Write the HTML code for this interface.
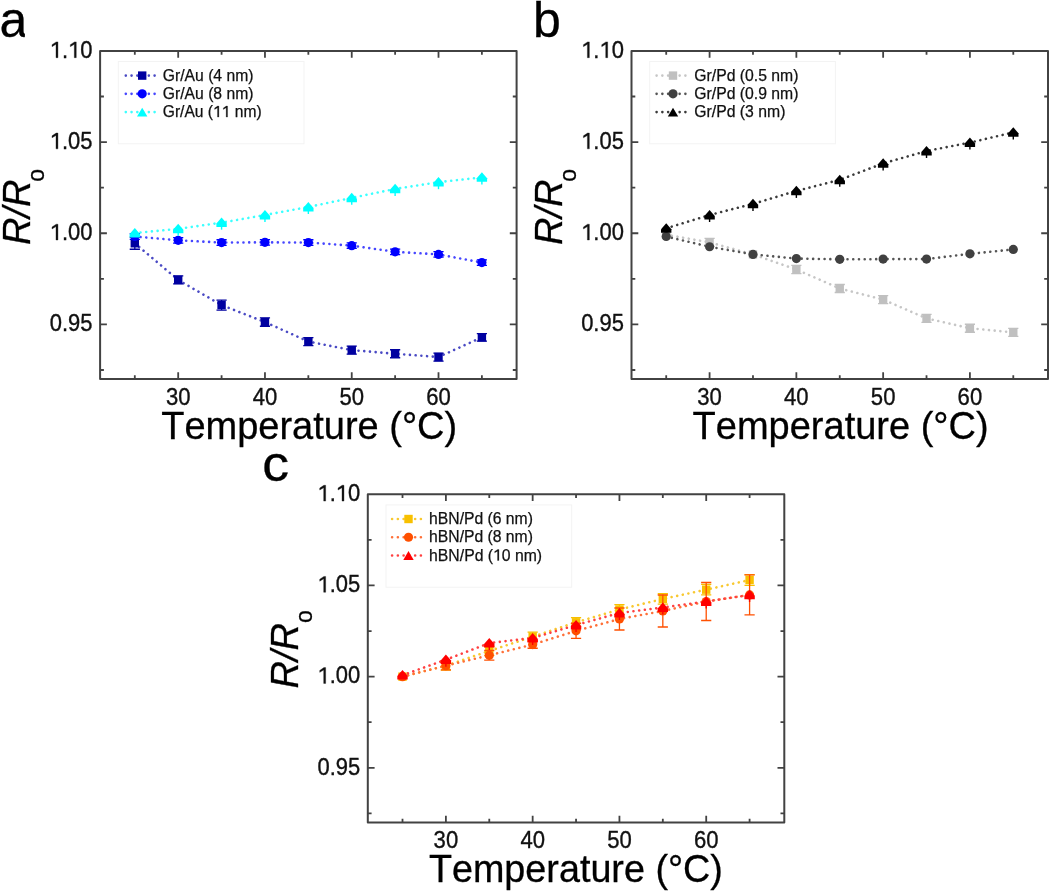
<!DOCTYPE html>
<html><head><meta charset="utf-8"><title>R/Ro vs Temperature</title>
<style>
html,body{margin:0;padding:0;background:#fff;}
body{width:1050px;height:891px;overflow:hidden;}
svg{display:block;will-change:transform;}
text{font-family:"Liberation Sans",sans-serif;fill:#000;font-kerning:none;}
.tl{font-size:23px;fill:#111;stroke:#111;stroke-width:0.35px;}
.at{font-size:38px;stroke:#000;stroke-width:0.3px;}
.sub{font-size:23px;font-style:normal;}
.pl{font-size:50px;stroke:#000;stroke-width:0.3px;}
.lg{font-size:16px;fill:#111;stroke:#111;stroke-width:0.25px;}
</style></head>
<body>
<svg width="1050" height="891" viewBox="0 0 1050 891">
<rect width="1050" height="891" fill="#fff"/>
<g>
<rect x="100.1" y="50.9" width="416.5" height="328.2" fill="none" stroke="#424242" stroke-width="2.0" stroke-linejoin="round"/>
<path d="M134.81 379.1v-3.8M134.81 50.9v3.8M178.19 379.1v-6.8M178.19 50.9v6.8M221.58 379.1v-3.8M221.58 50.9v3.8M264.96 379.1v-6.8M264.96 50.9v6.8M308.35 379.1v-3.8M308.35 50.9v3.8M351.74 379.1v-6.8M351.74 50.9v6.8M395.12 379.1v-3.8M395.12 50.9v3.8M438.51 379.1v-6.8M438.51 50.9v6.8M481.89 379.1v-3.8M481.89 50.9v3.8M100.1 369.98h3.8M516.6 369.98h-3.8M100.1 324.4h6.8M516.6 324.4h-6.8M100.1 278.82h3.8M516.6 278.82h-3.8M100.1 233.23h6.8M516.6 233.23h-6.8M100.1 187.65h3.8M516.6 187.65h-3.8M100.1 142.07h6.8M516.6 142.07h-6.8M100.1 96.48h3.8M516.6 96.48h-3.8" stroke="#424242" stroke-width="1.8" fill="none"/>
<g transform="translate(7.13 0) scale(0.96 1)"><text x="165.4" y="405" class="tl">30</text></g>
<g transform="translate(10.6 0) scale(0.96 1)"><text x="252.17" y="405" class="tl">40</text></g>
<g transform="translate(14.07 0) scale(0.96 1)"><text x="338.94" y="405" class="tl">50</text></g>
<g transform="translate(17.54 0) scale(0.96 1)"><text x="425.71" y="405" class="tl">60</text></g>
<g transform="translate(4.16 0) scale(0.955 1)"><text x="47.74" y="331.2" class="tl">0.95</text></g>
<g transform="translate(4.16 0) scale(0.955 1)"><text x="47.74" y="240.03" class="tl"> .00</text><path class="tl" d="M54.28 240.03L54.28 226.6L50.12 228.97L50.12 227.01L54.47 224.21L56.32 224.21L56.32 240.03Z"/></g>
<g transform="translate(4.16 0) scale(0.955 1)"><text x="47.74" y="148.87" class="tl"> .05</text><path class="tl" d="M54.28 148.87L54.28 135.44L50.12 137.8L50.12 135.84L54.47 133.04L56.32 133.04L56.32 148.87Z"/></g>
<g transform="translate(4.16 0) scale(0.955 1)"><text x="47.74" y="57.7" class="tl"> . 0</text><path class="tl" d="M54.28 57.7L54.28 44.27L50.12 46.64L50.12 44.67L54.47 41.88L56.32 41.88L56.32 57.7Z"/><path class="tl" d="M73.46 57.7L73.46 44.27L69.3 46.64L69.3 44.67L73.66 41.88L75.5 41.88L75.5 57.7Z"/></g>
<text x="161.2" y="439" class="at" textLength="296" lengthAdjust="spacingAndGlyphs">Temperature (°C)</text>
<text transform="translate(29.8 245.1) rotate(-90)" class="at"><tspan font-style="italic">R/R</tspan><tspan class="sub" dx="-2.2" dy="14.2">o</tspan></text>
<text x="-0.4" y="37.2" class="pl">a</text>
<rect x="24.9" y="28" width="5" height="12" fill="#fff"/>
<rect x="118.3" y="61.5" width="185.7" height="82.3" fill="none" stroke="#f3f3f3" stroke-width="1"/>
<path d="M125.8 75.6H159.5" stroke="#4a4ac4" stroke-width="2.6" stroke-linecap="round" stroke-dasharray="0.01 5.75" fill="none"/>
<rect x="138" y="71.4" width="8.4" height="8.4" fill="#0000a0"/>
<text x="162.8" y="80.6" class="lg" textLength="90.7" lengthAdjust="spacingAndGlyphs">Gr/Au (4 nm)</text>
<path d="M125.8 93.85H159.5" stroke="#4646ff" stroke-width="2.6" stroke-linecap="round" stroke-dasharray="0.01 5.75" fill="none"/>
<circle cx="142.2" cy="93.85" r="4.6" fill="#0000ff"/>
<text x="162.8" y="98.85" class="lg" textLength="90.7" lengthAdjust="spacingAndGlyphs">Gr/Au (8 nm)</text>
<path d="M125.8 112.1H159.5" stroke="#3cffff" stroke-width="2.6" stroke-linecap="round" stroke-dasharray="0.01 5.75" fill="none"/>
<path d="M142.2 107.7L147.4 116.5L137 116.5Z" fill="#00ffff"/>
<text x="162.8" y="117.1" class="lg" textLength="98.8" lengthAdjust="spacingAndGlyphs">Gr/Au (   nm)</text><path class="lg" d="M217.5 117.1L217.5 107.76L214.67 109.4L214.67 108.04L217.63 106.09L218.88 106.09L218.88 117.1Z"/><path class="lg" d="M226.17 117.1L226.17 107.76L223.35 109.4L223.35 108.04L226.3 106.09L227.55 106.09L227.55 117.1Z"/>
<polyline points="134.81,243.26 178.19,279.91 221.58,305.07 264.96,322.03 308.35,341.54 351.74,350.11 395.12,353.76 438.51,357.04 481.89,337.35" stroke="#4a4ac4" stroke-width="2.6" stroke-linecap="round" stroke-dasharray="0.01 5.72" fill="none"/>
<polyline points="134.81,236.52 178.19,240.34 221.58,242.53 264.96,242.35 308.35,242.53 351.74,245.63 395.12,251.83 438.51,254.38 481.89,262.59" stroke="#4646ff" stroke-width="2.6" stroke-linecap="round" stroke-dasharray="0.01 5.72" fill="none"/>
<polyline points="134.81,233.05 178.19,228.86 221.58,222.66 264.96,215 308.35,206.98 351.74,197.86 395.12,188.93 438.51,182.18 481.89,177.44" stroke="#3cffff" stroke-width="2.6" stroke-linecap="round" stroke-dasharray="0.01 5.72" fill="none"/>
<path d="M134.81 237.26V249.26M129.71 237.26H139.91M129.71 249.26H139.91" stroke="#0000a0" stroke-width="1.3" fill="none"/>
<rect x="130.61" y="239.06" width="8.4" height="8.4" fill="#0000a0"/>
<path d="M178.19 275.91V283.91M173.09 275.91H183.29M173.09 283.91H183.29" stroke="#0000a0" stroke-width="1.3" fill="none"/>
<rect x="173.99" y="275.71" width="8.4" height="8.4" fill="#0000a0"/>
<path d="M221.58 300.07V310.07M216.48 300.07H226.68M216.48 310.07H226.68" stroke="#0000a0" stroke-width="1.3" fill="none"/>
<rect x="217.38" y="300.87" width="8.4" height="8.4" fill="#0000a0"/>
<path d="M264.96 317.83V326.23M259.86 317.83H270.06M259.86 326.23H270.06" stroke="#0000a0" stroke-width="1.3" fill="none"/>
<rect x="260.76" y="317.83" width="8.4" height="8.4" fill="#0000a0"/>
<path d="M308.35 337.54V345.54M303.25 337.54H313.45M303.25 345.54H313.45" stroke="#0000a0" stroke-width="1.3" fill="none"/>
<rect x="304.15" y="337.34" width="8.4" height="8.4" fill="#0000a0"/>
<path d="M351.74 346.11V354.11M346.64 346.11H356.84M346.64 354.11H356.84" stroke="#0000a0" stroke-width="1.3" fill="none"/>
<rect x="347.54" y="345.91" width="8.4" height="8.4" fill="#0000a0"/>
<path d="M395.12 349.76V357.76M390.02 349.76H400.22M390.02 357.76H400.22" stroke="#0000a0" stroke-width="1.3" fill="none"/>
<rect x="390.92" y="349.56" width="8.4" height="8.4" fill="#0000a0"/>
<path d="M438.51 353.04V361.04M433.41 353.04H443.61M433.41 361.04H443.61" stroke="#0000a0" stroke-width="1.3" fill="none"/>
<rect x="434.31" y="352.84" width="8.4" height="8.4" fill="#0000a0"/>
<path d="M481.89 333.55V341.15M476.79 333.55H486.99M476.79 341.15H486.99" stroke="#0000a0" stroke-width="1.3" fill="none"/>
<rect x="477.69" y="333.15" width="8.4" height="8.4" fill="#0000a0"/>
<path d="M134.81 233.72V239.32M129.71 233.72H139.91M129.71 239.32H139.91" stroke="#0000ff" stroke-width="1.3" fill="none"/>
<circle cx="134.81" cy="236.52" r="4.6" fill="#0000ff"/>
<path d="M178.19 237.54V243.14M173.09 237.54H183.29M173.09 243.14H183.29" stroke="#0000ff" stroke-width="1.3" fill="none"/>
<circle cx="178.19" cy="240.34" r="4.6" fill="#0000ff"/>
<path d="M221.58 239.73V245.33M216.48 239.73H226.68M216.48 245.33H226.68" stroke="#0000ff" stroke-width="1.3" fill="none"/>
<circle cx="221.58" cy="242.53" r="4.6" fill="#0000ff"/>
<path d="M264.96 239.55V245.15M259.86 239.55H270.06M259.86 245.15H270.06" stroke="#0000ff" stroke-width="1.3" fill="none"/>
<circle cx="264.96" cy="242.35" r="4.6" fill="#0000ff"/>
<path d="M308.35 239.73V245.33M303.25 239.73H313.45M303.25 245.33H313.45" stroke="#0000ff" stroke-width="1.3" fill="none"/>
<circle cx="308.35" cy="242.53" r="4.6" fill="#0000ff"/>
<path d="M351.74 242.83V248.43M346.64 242.83H356.84M346.64 248.43H356.84" stroke="#0000ff" stroke-width="1.3" fill="none"/>
<circle cx="351.74" cy="245.63" r="4.6" fill="#0000ff"/>
<path d="M395.12 249.03V254.63M390.02 249.03H400.22M390.02 254.63H400.22" stroke="#0000ff" stroke-width="1.3" fill="none"/>
<circle cx="395.12" cy="251.83" r="4.6" fill="#0000ff"/>
<path d="M438.51 251.58V257.18M433.41 251.58H443.61M433.41 257.18H443.61" stroke="#0000ff" stroke-width="1.3" fill="none"/>
<circle cx="438.51" cy="254.38" r="4.6" fill="#0000ff"/>
<path d="M481.89 259.79V265.39M476.79 259.79H486.99M476.79 265.39H486.99" stroke="#0000ff" stroke-width="1.3" fill="none"/>
<circle cx="481.89" cy="262.59" r="4.6" fill="#0000ff"/>
<path d="M134.81 227.95L140.01 233.95V237.45H129.61V233.95Z" fill="#00ffff"/>
<path d="M178.19 228.86V235.86" stroke="#00ffff" stroke-width="1.4" fill="none"/>
<path d="M178.19 223.76L183.39 229.76V233.26H172.99V229.76Z" fill="#00ffff"/>
<path d="M221.58 222.66V229.66" stroke="#00ffff" stroke-width="1.4" fill="none"/>
<path d="M221.58 217.56L226.78 223.56V227.06H216.38V223.56Z" fill="#00ffff"/>
<path d="M264.96 215V222" stroke="#00ffff" stroke-width="1.4" fill="none"/>
<path d="M264.96 209.9L270.16 215.9V219.4H259.76V215.9Z" fill="#00ffff"/>
<path d="M308.35 206.98V213.98" stroke="#00ffff" stroke-width="1.4" fill="none"/>
<path d="M308.35 201.88L313.55 207.88V211.38H303.15V207.88Z" fill="#00ffff"/>
<path d="M351.74 197.86V204.86" stroke="#00ffff" stroke-width="1.4" fill="none"/>
<path d="M351.74 192.76L356.94 198.76V202.26H346.54V198.76Z" fill="#00ffff"/>
<path d="M395.12 188.93V195.93" stroke="#00ffff" stroke-width="1.4" fill="none"/>
<path d="M395.12 183.83L400.32 189.83V193.33H389.92V189.83Z" fill="#00ffff"/>
<path d="M438.51 182.18V189.18" stroke="#00ffff" stroke-width="1.4" fill="none"/>
<path d="M438.51 177.08L443.71 183.08V186.58H433.31V183.08Z" fill="#00ffff"/>
<path d="M481.89 177.44V184.44" stroke="#00ffff" stroke-width="1.4" fill="none"/>
<path d="M481.89 172.34L487.09 178.34V181.84H476.69V178.34Z" fill="#00ffff"/>
<rect x="631.5" y="50.9" width="416.5" height="328.2" fill="none" stroke="#424242" stroke-width="2.0" stroke-linejoin="round"/>
<path d="M666.21 379.1v-3.8M666.21 50.9v3.8M709.59 379.1v-6.8M709.59 50.9v6.8M752.98 379.1v-3.8M752.98 50.9v3.8M796.36 379.1v-6.8M796.36 50.9v6.8M839.75 379.1v-3.8M839.75 50.9v3.8M883.14 379.1v-6.8M883.14 50.9v6.8M926.52 379.1v-3.8M926.52 50.9v3.8M969.91 379.1v-6.8M969.91 50.9v6.8M1013.29 379.1v-3.8M1013.29 50.9v3.8M631.5 369.98h3.8M1048 369.98h-3.8M631.5 324.4h6.8M1048 324.4h-6.8M631.5 278.82h3.8M1048 278.82h-3.8M631.5 233.23h6.8M1048 233.23h-6.8M631.5 187.65h3.8M1048 187.65h-3.8M631.5 142.07h6.8M1048 142.07h-6.8M631.5 96.48h3.8M1048 96.48h-3.8" stroke="#424242" stroke-width="1.8" fill="none"/>
<g transform="translate(28.38 0) scale(0.96 1)"><text x="696.8" y="405" class="tl">30</text></g>
<g transform="translate(31.85 0) scale(0.96 1)"><text x="783.57" y="405" class="tl">40</text></g>
<g transform="translate(35.33 0) scale(0.96 1)"><text x="870.34" y="405" class="tl">50</text></g>
<g transform="translate(38.8 0) scale(0.96 1)"><text x="957.11" y="405" class="tl">60</text></g>
<g transform="translate(28.08 0) scale(0.955 1)"><text x="579.14" y="331.2" class="tl">0.95</text></g>
<g transform="translate(28.08 0) scale(0.955 1)"><text x="579.14" y="240.03" class="tl"> .00</text><path class="tl" d="M585.68 240.03L585.68 226.6L581.52 228.97L581.52 227.01L585.87 224.21L587.72 224.21L587.72 240.03Z"/></g>
<g transform="translate(28.08 0) scale(0.955 1)"><text x="579.14" y="148.87" class="tl"> .05</text><path class="tl" d="M585.68 148.87L585.68 135.44L581.52 137.8L581.52 135.84L585.87 133.04L587.72 133.04L587.72 148.87Z"/></g>
<g transform="translate(28.08 0) scale(0.955 1)"><text x="579.14" y="57.7" class="tl"> . 0</text><path class="tl" d="M585.68 57.7L585.68 44.27L581.52 46.64L581.52 44.67L585.87 41.88L587.72 41.88L587.72 57.7Z"/><path class="tl" d="M604.86 57.7L604.86 44.27L600.7 46.64L600.7 44.67L605.06 41.88L606.9 41.88L606.9 57.7Z"/></g>
<text x="692.6" y="439" class="at" textLength="296" lengthAdjust="spacingAndGlyphs">Temperature (°C)</text>
<text transform="translate(562.2 245.1) rotate(-90)" class="at"><tspan font-style="italic">R/R</tspan><tspan class="sub" dx="-2.2" dy="14.2">o</tspan></text>
<text x="533" y="37" class="pl">b</text>
<rect x="649.7" y="61.5" width="185.7" height="82.3" fill="none" stroke="#f3f3f3" stroke-width="1"/>
<path d="M656.6 75.6H690.3" stroke="#c6c6c6" stroke-width="2.6" stroke-linecap="round" stroke-dasharray="0.01 5.75" fill="none"/>
<rect x="668.8" y="71.4" width="8.4" height="8.4" fill="#c0c0c0"/>
<text x="694.3" y="80.6" class="lg" textLength="104.2" lengthAdjust="spacingAndGlyphs">Gr/Pd (0.5 nm)</text>
<path d="M656.6 93.85H690.3" stroke="#555555" stroke-width="2.6" stroke-linecap="round" stroke-dasharray="0.01 5.75" fill="none"/>
<circle cx="673" cy="93.85" r="4.6" fill="#404040"/>
<text x="694.3" y="98.85" class="lg" textLength="104.2" lengthAdjust="spacingAndGlyphs">Gr/Pd (0.9 nm)</text>
<path d="M656.6 112.1H690.3" stroke="#3a3a3a" stroke-width="2.6" stroke-linecap="round" stroke-dasharray="0.01 5.75" fill="none"/>
<path d="M673 107.7L678.2 116.5L667.8 116.5Z" fill="#000000"/>
<text x="694.3" y="117.1" class="lg" textLength="91.1" lengthAdjust="spacingAndGlyphs">Gr/Pd (3 nm)</text>
<polyline points="666.21,234.69 709.59,242.35 752.98,254.38 796.36,269.52 839.75,288.48 883.14,299.6 926.52,318.38 969.91,328.23 1013.29,332.42" stroke="#c6c6c6" stroke-width="2.6" stroke-linecap="round" stroke-dasharray="0.01 5.72" fill="none"/>
<polyline points="666.21,236.52 709.59,246.73 752.98,254.38 796.36,258.58 839.75,259.31 883.14,259.12 926.52,259.12 969.91,253.84 1013.29,249.46" stroke="#555555" stroke-width="2.6" stroke-linecap="round" stroke-dasharray="0.01 5.72" fill="none"/>
<polyline points="666.21,228.31 709.59,215 752.98,203.88 796.36,190.93 839.75,179.81 883.14,163.4 926.52,151 969.91,142.61 1013.29,132.4" stroke="#3a3a3a" stroke-width="2.6" stroke-linecap="round" stroke-dasharray="0.01 5.72" fill="none"/>

<rect x="662.01" y="230.49" width="8.4" height="8.4" fill="#c0c0c0"/>
<path d="M709.59 238.35V246.35M704.49 238.35H714.69M704.49 246.35H714.69" stroke="#c0c0c0" stroke-width="1.3" fill="none"/>
<rect x="705.39" y="238.15" width="8.4" height="8.4" fill="#c0c0c0"/>

<rect x="748.78" y="250.18" width="8.4" height="8.4" fill="#c0c0c0"/>
<path d="M796.36 265.32V273.72M791.26 265.32H801.46M791.26 273.72H801.46" stroke="#c0c0c0" stroke-width="1.3" fill="none"/>
<rect x="792.16" y="265.32" width="8.4" height="8.4" fill="#c0c0c0"/>
<path d="M839.75 284.48V292.48M834.65 284.48H844.85M834.65 292.48H844.85" stroke="#c0c0c0" stroke-width="1.3" fill="none"/>
<rect x="835.55" y="284.28" width="8.4" height="8.4" fill="#c0c0c0"/>
<path d="M883.14 295.6V303.6M878.04 295.6H888.24M878.04 303.6H888.24" stroke="#c0c0c0" stroke-width="1.3" fill="none"/>
<rect x="878.94" y="295.4" width="8.4" height="8.4" fill="#c0c0c0"/>
<path d="M926.52 314.38V322.38M921.42 314.38H931.62M921.42 322.38H931.62" stroke="#c0c0c0" stroke-width="1.3" fill="none"/>
<rect x="922.32" y="314.18" width="8.4" height="8.4" fill="#c0c0c0"/>
<path d="M969.91 324.23V332.23M964.81 324.23H975.01M964.81 332.23H975.01" stroke="#c0c0c0" stroke-width="1.3" fill="none"/>
<rect x="965.71" y="324.03" width="8.4" height="8.4" fill="#c0c0c0"/>
<path d="M1013.29 328.42V336.42M1008.19 328.42H1018.39M1008.19 336.42H1018.39" stroke="#c0c0c0" stroke-width="1.3" fill="none"/>
<rect x="1009.09" y="328.22" width="8.4" height="8.4" fill="#c0c0c0"/>

<circle cx="666.21" cy="236.52" r="4.6" fill="#404040"/>

<circle cx="709.59" cy="246.73" r="4.6" fill="#404040"/>

<circle cx="752.98" cy="254.38" r="4.6" fill="#404040"/>

<circle cx="796.36" cy="258.58" r="4.6" fill="#404040"/>

<circle cx="839.75" cy="259.31" r="4.6" fill="#404040"/>

<circle cx="883.14" cy="259.12" r="4.6" fill="#404040"/>

<circle cx="926.52" cy="259.12" r="4.6" fill="#404040"/>

<circle cx="969.91" cy="253.84" r="4.6" fill="#404040"/>

<circle cx="1013.29" cy="249.46" r="4.6" fill="#404040"/>
<path d="M666.21 223.21L671.41 229.21V232.71H661.01V229.21Z" fill="#000000"/>
<path d="M709.59 215V222" stroke="#000000" stroke-width="1.4" fill="none"/>
<path d="M709.59 209.9L714.79 215.9V219.4H704.39V215.9Z" fill="#000000"/>
<path d="M752.98 203.88V210.88" stroke="#000000" stroke-width="1.4" fill="none"/>
<path d="M752.98 198.78L758.18 204.78V208.28H747.78V204.78Z" fill="#000000"/>
<path d="M796.36 190.93V197.93" stroke="#000000" stroke-width="1.4" fill="none"/>
<path d="M796.36 185.83L801.56 191.83V195.33H791.16V191.83Z" fill="#000000"/>
<path d="M839.75 179.81V186.81" stroke="#000000" stroke-width="1.4" fill="none"/>
<path d="M839.75 174.71L844.95 180.71V184.21H834.55V180.71Z" fill="#000000"/>
<path d="M883.14 163.4V170.4" stroke="#000000" stroke-width="1.4" fill="none"/>
<path d="M883.14 158.3L888.34 164.3V167.8H877.94V164.3Z" fill="#000000"/>
<path d="M926.52 151V158" stroke="#000000" stroke-width="1.4" fill="none"/>
<path d="M926.52 145.9L931.72 151.9V155.4H921.32V151.9Z" fill="#000000"/>
<path d="M969.91 142.61V149.61" stroke="#000000" stroke-width="1.4" fill="none"/>
<path d="M969.91 137.51L975.11 143.51V147.01H964.71V143.51Z" fill="#000000"/>
<path d="M1013.29 132.4V139.4" stroke="#000000" stroke-width="1.4" fill="none"/>
<path d="M1013.29 127.3L1018.49 133.3V136.8H1008.09V133.3Z" fill="#000000"/>
<rect x="367.8" y="494.3" width="416.5" height="328.2" fill="none" stroke="#424242" stroke-width="2.0" stroke-linejoin="round"/>
<path d="M402.51 822.5v-3.8M402.51 494.3v3.8M445.89 822.5v-6.8M445.89 494.3v6.8M489.28 822.5v-3.8M489.28 494.3v3.8M532.66 822.5v-6.8M532.66 494.3v6.8M576.05 822.5v-3.8M576.05 494.3v3.8M619.44 822.5v-6.8M619.44 494.3v6.8M662.82 822.5v-3.8M662.82 494.3v3.8M706.21 822.5v-6.8M706.21 494.3v6.8M749.59 822.5v-3.8M749.59 494.3v3.8M367.8 813.38h3.8M784.3 813.38h-3.8M367.8 767.8h6.8M784.3 767.8h-6.8M367.8 722.22h3.8M784.3 722.22h-3.8M367.8 676.63h6.8M784.3 676.63h-6.8M367.8 631.05h3.8M784.3 631.05h-3.8M367.8 585.47h6.8M784.3 585.47h-6.8M367.8 539.88h3.8M784.3 539.88h-3.8" stroke="#424242" stroke-width="1.8" fill="none"/>
<g transform="translate(17.84 0) scale(0.96 1)"><text x="433.1" y="848.4" class="tl">30</text></g>
<g transform="translate(21.31 0) scale(0.96 1)"><text x="519.87" y="848.4" class="tl">40</text></g>
<g transform="translate(24.78 0) scale(0.96 1)"><text x="606.64" y="848.4" class="tl">50</text></g>
<g transform="translate(28.25 0) scale(0.96 1)"><text x="693.41" y="848.4" class="tl">60</text></g>
<g transform="translate(16.21 0) scale(0.955 1)"><text x="315.44" y="774.6" class="tl">0.95</text></g>
<g transform="translate(16.21 0) scale(0.955 1)"><text x="315.44" y="683.43" class="tl"> .00</text><path class="tl" d="M321.98 683.43L321.98 670L317.82 672.37L317.82 670.41L322.17 667.61L324.02 667.61L324.02 683.43Z"/></g>
<g transform="translate(16.21 0) scale(0.955 1)"><text x="315.44" y="592.27" class="tl"> .05</text><path class="tl" d="M321.98 592.27L321.98 578.84L317.82 581.2L317.82 579.24L322.17 576.44L324.02 576.44L324.02 592.27Z"/></g>
<g transform="translate(16.21 0) scale(0.955 1)"><text x="315.44" y="501.1" class="tl"> . 0</text><path class="tl" d="M321.98 501.1L321.98 487.67L317.82 490.04L317.82 488.07L322.17 485.28L324.02 485.28L324.02 501.1Z"/><path class="tl" d="M341.16 501.1L341.16 487.67L337 490.04L337 488.07L341.36 485.28L343.2 485.28L343.2 501.1Z"/></g>
<text x="428.9" y="882.4" class="at" textLength="294" lengthAdjust="spacingAndGlyphs">Temperature (°C)</text>
<text transform="translate(297.5 688.5) rotate(-90)" class="at"><tspan font-style="italic">R/R</tspan><tspan class="sub" dx="0" dy="14.2">o</tspan></text>
<text transform="translate(262.2 480.6) scale(1.07 1)" class="pl">c</text>
<rect x="386" y="504.9" width="185.7" height="82.3" fill="none" stroke="#f3f3f3" stroke-width="1"/>
<path d="M392.1 519H425.8" stroke="#f8c830" stroke-width="2.6" stroke-linecap="round" stroke-dasharray="0.01 5.75" fill="none"/>
<rect x="404.3" y="514.8" width="8.4" height="8.4" fill="#f8c000"/>
<text x="429.1" y="524" class="lg" textLength="103.8" lengthAdjust="spacingAndGlyphs">hBN/Pd (6 nm)</text>
<path d="M392.1 537.25H425.8" stroke="#ff7038" stroke-width="2.6" stroke-linecap="round" stroke-dasharray="0.01 5.75" fill="none"/>
<circle cx="408.5" cy="537.25" r="4.6" fill="#ff5000"/>
<text x="429.1" y="542.25" class="lg" textLength="103.8" lengthAdjust="spacingAndGlyphs">hBN/Pd (8 nm)</text>
<path d="M392.1 555.5H425.8" stroke="#ff4040" stroke-width="2.6" stroke-linecap="round" stroke-dasharray="0.01 5.75" fill="none"/>
<path d="M408.5 551.1L413.7 559.9L403.3 559.9Z" fill="#ff0000"/>
<text x="429.1" y="560.5" class="lg" textLength="113" lengthAdjust="spacingAndGlyphs">hBN/Pd ( 0 nm)</text><path class="lg" d="M497.53 560.5L497.53 551.16L494.68 552.8L494.68 551.44L497.66 549.49L498.93 549.49L498.93 560.5Z"/>
<polyline points="402.51,676.63 445.89,665.69 489.28,650.92 532.66,636.7 576.05,622.3 619.44,609.53 662.82,598.96 706.21,589.66 749.59,580" stroke="#f8c830" stroke-width="2.6" stroke-linecap="round" stroke-dasharray="0.01 5.72" fill="none"/>
<polyline points="402.51,676.63 445.89,665.69 489.28,655.3 532.66,644.54 576.05,630.87 619.44,619.02 662.82,610.99 706.21,601.51 749.59,594.95" stroke="#ff7038" stroke-width="2.6" stroke-linecap="round" stroke-dasharray="0.01 5.72" fill="none"/>
<polyline points="402.51,675.17 445.89,659.68 489.28,643.08 532.66,637.98 576.05,625.03 619.44,613 662.82,607.53 706.21,601.51 749.59,594.95" stroke="#ff4040" stroke-width="2.6" stroke-linecap="round" stroke-dasharray="0.01 5.72" fill="none"/>

<rect x="398.31" y="672.43" width="8.4" height="8.4" fill="#f8c000"/>
<path d="M445.89 661.29V670.09M440.79 661.29H450.99M440.79 670.09H450.99" stroke="#f8c000" stroke-width="1.3" fill="none"/>
<rect x="441.69" y="661.49" width="8.4" height="8.4" fill="#f8c000"/>
<path d="M489.28 646.52V655.32M484.18 646.52H494.38M484.18 655.32H494.38" stroke="#f8c000" stroke-width="1.3" fill="none"/>
<rect x="485.08" y="646.72" width="8.4" height="8.4" fill="#f8c000"/>
<path d="M532.66 632.1V641.3M527.56 632.1H537.76M527.56 641.3H537.76" stroke="#f8c000" stroke-width="1.3" fill="none"/>
<rect x="528.46" y="632.5" width="8.4" height="8.4" fill="#f8c000"/>
<path d="M576.05 617.7V626.9M570.95 617.7H581.15M570.95 626.9H581.15" stroke="#f8c000" stroke-width="1.3" fill="none"/>
<rect x="571.85" y="618.1" width="8.4" height="8.4" fill="#f8c000"/>
<path d="M619.44 604.53V614.53M614.34 604.53H624.54M614.34 614.53H624.54" stroke="#f8c000" stroke-width="1.3" fill="none"/>
<rect x="615.24" y="605.33" width="8.4" height="8.4" fill="#f8c000"/>
<path d="M662.82 593.76V604.16M657.72 593.76H667.92M657.72 604.16H667.92" stroke="#f8c000" stroke-width="1.3" fill="none"/>
<rect x="658.62" y="594.76" width="8.4" height="8.4" fill="#f8c000"/>
<path d="M706.21 584.46V594.86M701.11 584.46H711.31M701.11 594.86H711.31" stroke="#f8c000" stroke-width="1.3" fill="none"/>
<rect x="702.01" y="585.46" width="8.4" height="8.4" fill="#f8c000"/>
<path d="M749.59 574.6V585.4M744.49 574.6H754.69M744.49 585.4H754.69" stroke="#f8c000" stroke-width="1.3" fill="none"/>
<rect x="745.39" y="575.8" width="8.4" height="8.4" fill="#f8c000"/>

<circle cx="402.51" cy="676.63" r="4.6" fill="#ff5000"/>
<path d="M445.89 661.49V669.89M440.79 661.49H450.99M440.79 669.89H450.99" stroke="#ff5000" stroke-width="1.3" fill="none"/>
<circle cx="445.89" cy="665.69" r="4.6" fill="#ff5000"/>
<path d="M489.28 650.5V660.1M484.18 650.5H494.38M484.18 660.1H494.38" stroke="#ff5000" stroke-width="1.3" fill="none"/>
<circle cx="489.28" cy="655.3" r="4.6" fill="#ff5000"/>
<path d="M532.66 640.84V648.24M527.56 640.84H537.76M527.56 648.24H537.76" stroke="#ff5000" stroke-width="1.3" fill="none"/>
<circle cx="532.66" cy="644.54" r="4.6" fill="#ff5000"/>
<path d="M576.05 623.27V638.47M570.95 623.27H581.15M570.95 638.47H581.15" stroke="#ff5000" stroke-width="1.3" fill="none"/>
<circle cx="576.05" cy="630.87" r="4.6" fill="#ff5000"/>
<path d="M619.44 608.02V630.02M614.34 608.02H624.54M614.34 630.02H624.54" stroke="#ff5000" stroke-width="1.3" fill="none"/>
<circle cx="619.44" cy="619.02" r="4.6" fill="#ff5000"/>
<path d="M662.82 594.99V626.99M657.72 594.99H667.92M657.72 626.99H667.92" stroke="#ff5000" stroke-width="1.3" fill="none"/>
<circle cx="662.82" cy="610.99" r="4.6" fill="#ff5000"/>
<path d="M706.21 582.51V620.51M701.11 582.51H711.31M701.11 620.51H711.31" stroke="#ff5000" stroke-width="1.3" fill="none"/>
<circle cx="706.21" cy="601.51" r="4.6" fill="#ff5000"/>
<path d="M749.59 574.95V614.95M744.49 574.95H754.69M744.49 614.95H754.69" stroke="#ff5000" stroke-width="1.3" fill="none"/>
<circle cx="749.59" cy="594.95" r="4.6" fill="#ff5000"/>
<path d="M402.51 670.07L407.71 676.07V679.57H397.31V676.07Z" fill="#ff0000"/>
<path d="M445.89 659.68V666.68" stroke="#ff0000" stroke-width="1.4" fill="none"/>
<path d="M445.89 654.58L451.09 660.58V664.08H440.69V660.58Z" fill="#ff0000"/>
<path d="M489.28 643.08V650.08" stroke="#ff0000" stroke-width="1.4" fill="none"/>
<path d="M489.28 637.98L494.48 643.98V647.48H484.08V643.98Z" fill="#ff0000"/>
<path d="M532.66 637.98V644.98" stroke="#ff0000" stroke-width="1.4" fill="none"/>
<path d="M532.66 632.88L537.86 638.88V642.38H527.46V638.88Z" fill="#ff0000"/>
<path d="M576.05 625.03V632.03" stroke="#ff0000" stroke-width="1.4" fill="none"/>
<path d="M576.05 619.93L581.25 625.93V629.43H570.85V625.93Z" fill="#ff0000"/>
<path d="M619.44 613V620" stroke="#ff0000" stroke-width="1.4" fill="none"/>
<path d="M619.44 607.9L624.64 613.9V617.4H614.24V613.9Z" fill="#ff0000"/>
<path d="M662.82 607.53V614.53" stroke="#ff0000" stroke-width="1.4" fill="none"/>
<path d="M662.82 602.43L668.02 608.43V611.93H657.62V608.43Z" fill="#ff0000"/>
<path d="M706.21 601.51V608.51" stroke="#ff0000" stroke-width="1.4" fill="none"/>
<path d="M706.21 596.41L711.41 602.41V605.91H701.01V602.41Z" fill="#ff0000"/>
<path d="M749.59 594.95V601.95" stroke="#ff0000" stroke-width="1.4" fill="none"/>
<path d="M749.59 589.85L754.79 595.85V599.35H744.39V595.85Z" fill="#ff0000"/>
</g>
</svg>
</body></html>
